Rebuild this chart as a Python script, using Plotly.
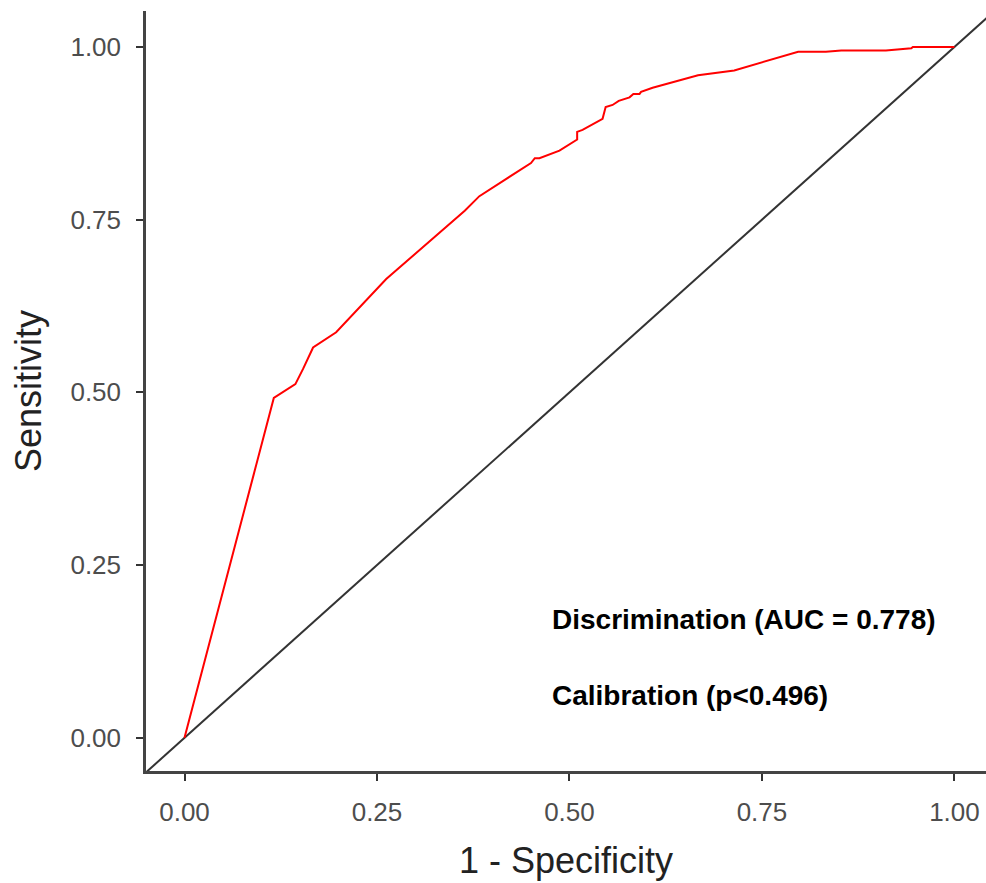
import plotly.graph_objects as go

# ROC curve: false positive rate (1 - specificity) vs true positive rate
fpr = [0.000, 0.116, 0.144, 0.154, 0.167, 0.171, 0.197, 0.262, 0.331, 0.364,
       0.383, 0.450, 0.455, 0.461, 0.487, 0.510, 0.510, 0.517, 0.543, 0.547,
       0.556, 0.564, 0.578, 0.583, 0.591, 0.593, 0.608, 0.667, 0.714, 0.797,
       0.833, 0.853, 0.911, 0.944, 0.946, 1.000]
tpr = [0.000, 0.492, 0.512, 0.534, 0.565, 0.568, 0.587, 0.664, 0.731, 0.763,
       0.784, 0.832, 0.839, 0.839, 0.850, 0.866, 0.877, 0.880, 0.896, 0.913,
       0.916, 0.922, 0.927, 0.932, 0.932, 0.935, 0.941, 0.959, 0.966, 0.993,
       0.993, 0.995, 0.995, 0.998, 1.000, 1.000]

# chance line
ref_x = [-0.05, 1.05]
ref_y = [-0.05, 1.05]

tick_vals = [0.0, 0.25, 0.5, 0.75, 1.0]
tick_text = ["0.00", "0.25", "0.50", "0.75", "1.00"]

auc_text = "Discrimination (AUC = 0.778)"
cal_text = "Calibration (p<0.496)"

FONT = "Liberation Sans, Arial, sans-serif"

fig = go.Figure()
fig.add_trace(go.Scatter(x=ref_x, y=ref_y, mode="lines",
                         line=dict(color="#333333", width=2), hoverinfo="skip"))
fig.add_trace(go.Scatter(x=fpr, y=tpr, mode="lines",
                         line=dict(color="#FF0000", width=2)))

axis_common = dict(
    showline=True, linecolor="#444444", linewidth=2.5,
    ticks="outside", ticklen=7, tickwidth=2, tickcolor="#333333",
    showgrid=False, zeroline=False,
    tickvals=tick_vals, ticktext=tick_text,
    tickfont=dict(family=FONT, size=26, color="#4D4D4D"),
)

fig.update_layout(
    width=986, height=883,
    margin=dict(l=146, r=0, t=11, b=112),
    plot_bgcolor="white", paper_bgcolor="white",
    showlegend=False,
    xaxis=dict(range=[-0.05, 1.041],
               title=dict(text="1 - Specificity", standoff=22,
                          font=dict(family=FONT, size=36, color="#222222")),
               ticklabelstandoff=9, **axis_common),
    yaxis=dict(range=[-0.048, 1.052],
               title=dict(text="Sensitivity", standoff=18,
                          font=dict(family=FONT, size=36, color="#222222")),
               ticklabelstandoff=10, **axis_common),
)

fig.add_annotation(x=0.475, y=0.171, text=auc_text, showarrow=False,
                   xanchor="left", yanchor="middle",
                   font=dict(family=FONT, size=28, color="black", weight="bold"))
fig.add_annotation(x=0.475, y=0.061, text=cal_text, showarrow=False,
                   xanchor="left", yanchor="middle",
                   font=dict(family=FONT, size=28, color="black", weight="bold"))

fig.write_html("out.html")
